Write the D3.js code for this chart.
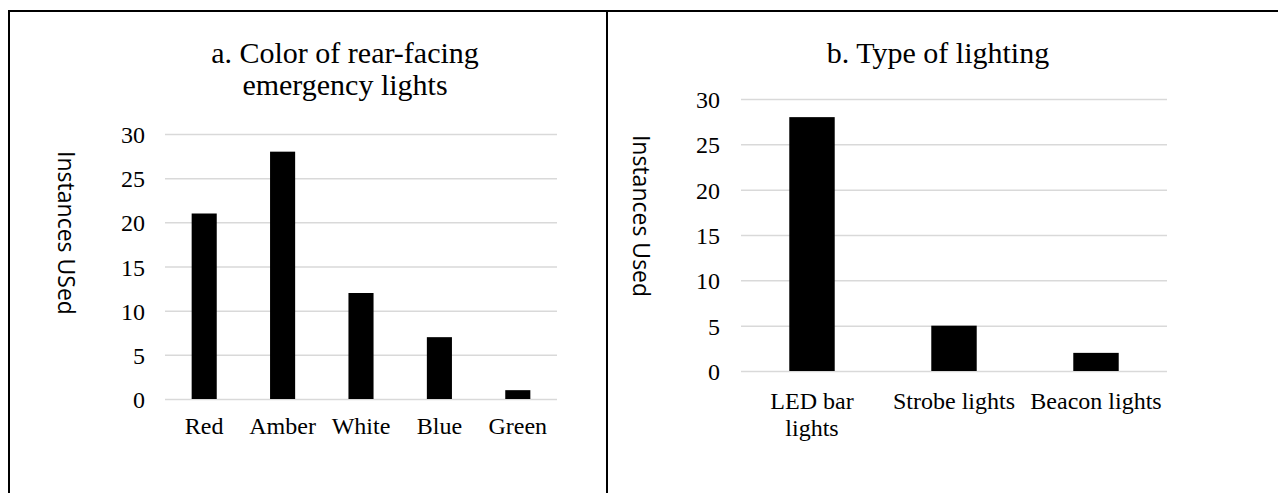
<!DOCTYPE html>
<html>
<head>
<meta charset="utf-8">
<script src="https://cdn.jsdelivr.net/npm/d3@7"></script>
<style>
  html, body { margin: 0; padding: 0; background: #fff; }
  svg { display: block; }
</style>
</head>
<body>
<svg id="chart" width="1278" height="493"></svg>
<script>
// ---- data ----
const titleA = ["a. Color of rear-facing", "emergency lights"];
const categoriesA = ["Red", "Amber", "White", "Blue", "Green"];
const valuesA = [21, 28, 12, 7, 1];
const yTitleA = "Instances USed";

const titleB = ["b. Type of lighting"];
const categoriesB = ["LED bar lights", "Strobe lights", "Beacon lights"];
const valuesB = [28, 5, 2];
const yTitleB = "Instances Used";

const yTicks = [0, 5, 10, 15, 20, 25, 30];
const yDomain = [0, 30];

// ---- drawing ----
const svg = d3.select("#chart");
const serif = "'Liberation Serif', 'Times New Roman', serif";
const sans = "'Open Sans', 'Noto Sans', sans-serif";

// frame lines
const frame = svg.append("g").attr("stroke", "#000").attr("stroke-width", 2).attr("fill", "none");
frame.append("line").attr("x1", 9).attr("x2", 1278).attr("y1", 11).attr("y2", 11);
frame.append("line").attr("x1", 9).attr("x2", 9).attr("y1", 10).attr("y2", 493);
frame.append("line").attr("x1", 607).attr("x2", 607).attr("y1", 10).attr("y2", 493);

function panel(cfg) {
  const g = svg.append("g");
  const x = d3.scaleBand().domain(cfg.categories).range([cfg.x0, cfg.x1])
    .paddingInner(0.68).paddingOuter(0.34);
  const y = d3.scaleLinear().domain(yDomain).range([cfg.y0, cfg.y1]);

  // gridlines
  const yGrid = d3.axisLeft(y).tickValues(yTicks).tickSize(-(cfg.x1 - cfg.x0)).tickFormat("");
  const gg = g.append("g").attr("transform", `translate(${cfg.x0},0)`).call(yGrid);
  gg.select(".domain").remove();
  gg.selectAll(".tick line").attr("stroke", "#d9d9d9").attr("stroke-width", 1.5);

  // y tick labels
  const yAxis = d3.axisLeft(y).tickValues(yTicks).tickSize(0).tickPadding(0);
  const ya = g.append("g").attr("transform", `translate(${cfg.tickX},0)`).call(yAxis)
    .attr("font-family", serif).attr("font-size", 24);
  ya.select(".domain").remove();
  ya.selectAll(".tick text").attr("font-family", serif).attr("font-size", 24)
    .attr("fill", "#000").attr("dy", "0.36em");

  // bars
  g.append("g").selectAll("rect").data(cfg.values).join("rect")
    .attr("x", (d, i) => x(cfg.categories[i]))
    .attr("width", x.bandwidth())
    .attr("y", d => y(d))
    .attr("height", d => y(0) - y(d))
    .attr("fill", "#000");

  // category labels (wrapped to the category slot width)
  const xa = g.append("g");
  cfg.categories.forEach(c => {
    const cx = x(c) + x.bandwidth() / 2;
    const t = xa.append("text").attr("font-family", serif).attr("font-size", 24)
      .attr("fill", "#000").attr("text-anchor", "middle")
      .attr("x", cx).attr("y", cfg.catY);
    const words = c.split(" ");
    let line = [];
    let ts = t.append("tspan").attr("x", cx).attr("dy", 0);
    words.forEach(w => {
      line.push(w);
      ts.text(line.join(" "));
      if (ts.node().getComputedTextLength() > x.step() * 0.96 && line.length > 1) {
        line.pop();
        ts.text(line.join(" "));
        line = [w];
        ts = t.append("tspan").attr("x", cx).attr("dy", 27).text(w);
      }
    });
  });

  // title
  const tt = g.append("text").attr("font-family", serif).attr("font-size", 30)
    .attr("fill", "#000").attr("text-anchor", "middle");
  cfg.title.forEach((s, i) => {
    tt.append("tspan").attr("x", cfg.titleX).attr("y", cfg.titleY + i * 32).text(s);
  });

  // y axis title
  g.append("text").attr("font-family", sans).attr("font-size", 23).attr("fill", "#000")
    .attr("text-anchor", "middle")
    .attr("transform", `translate(${cfg.yTitleX},${cfg.yTitleY}) rotate(90)`)
    .attr("dy", "0.35em")
    .text(cfg.yTitle);
}

panel({
  categories: categoriesA, values: valuesA, title: titleA, yTitle: yTitleA,
  x0: 165, x1: 557, y0: 399, y1: 134, tickX: 145, catY: 434,
  titleX: 345, titleY: 63, yTitleX: 66, yTitleY: 233
});

panel({
  categories: categoriesB, values: valuesB, title: titleB, yTitle: yTitleB,
  x0: 741, x1: 1167, y0: 371, y1: 99, tickX: 720, catY: 409,
  titleX: 938, titleY: 63, yTitleX: 641, yTitleY: 216
});
</script>
</body>
</html>
